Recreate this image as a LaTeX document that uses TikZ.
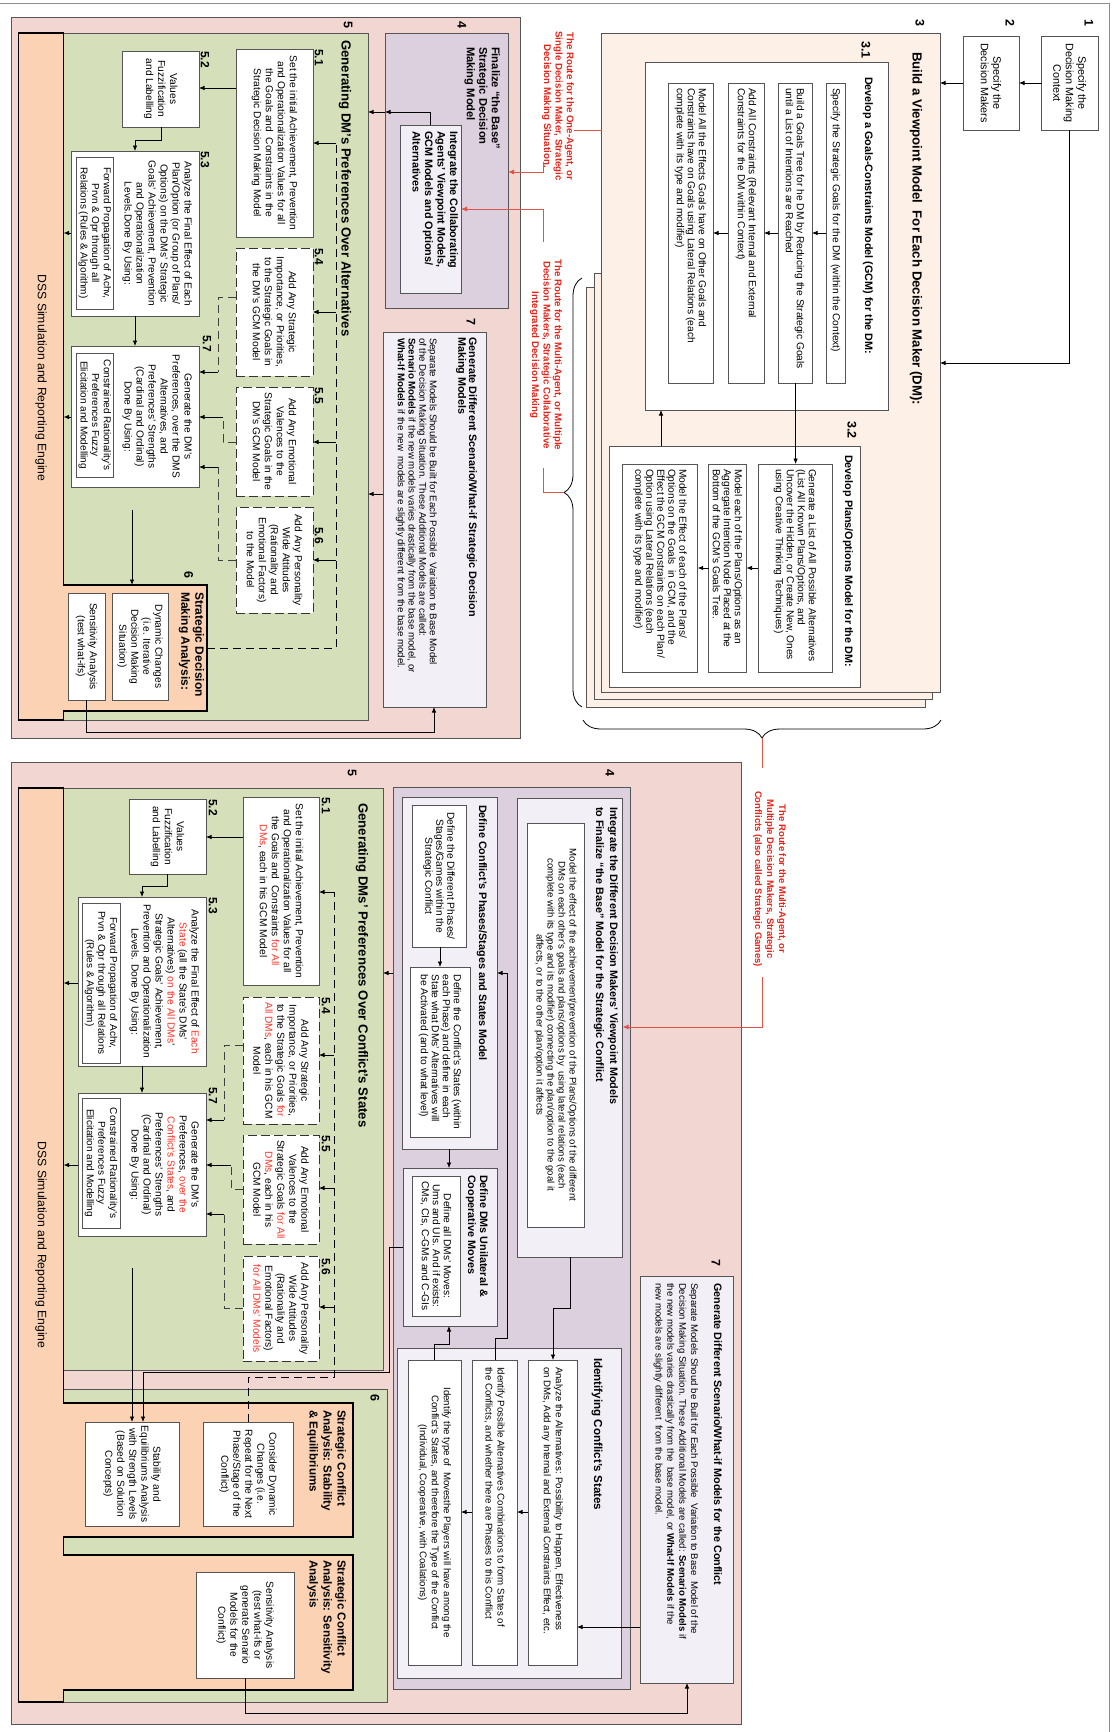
\documentclass[tikz,border=0pt]{standalone}
\usepackage{fontspec}
\setmainfont{Liberation Sans}
\usetikzlibrary{arrows.meta,decorations.pathreplacing}
\definecolor{pinkbg}{RGB}{242,214,210}
\definecolor{greenbg}{RGB}{213,224,187}
\definecolor{peach}{RGB}{251,211,180}
\definecolor{lav}{RGB}{220,207,222}
\definecolor{lavlt}{RGB}{242,240,246}
\definecolor{cream}{RGB}{253,240,231}
\definecolor{routered}{RGB}{226,36,26}
\definecolor{routeln}{RGB}{222,84,74}
\definecolor{hilite}{RGB}{255,52,40}
\definecolor{edge}{RGB}{85,85,85}
% box from its top-left and bottom-right corners (x right, y down)
\newcommand\bx[6]{\node[#6, anchor=north west, minimum width={#4-#2}, minimum height={#5-#3}] (#1) at (#2,#3) {};}
\newcommand\hl[1]{\textcolor{hilite}{#1}}
\begin{document}
\begin{tikzpicture}[x=1pt,y=-1pt,
  every node/.style={outer sep=0pt},
  frm/.style={draw=edge, line width=0.8pt, inner sep=0pt},
  wbox/.style={frm, fill=white},
  dbox/.style={draw=black!80, fill=white, line width=0.9pt, dash pattern=on 9pt off 4pt, inner sep=0pt},
  hid/.style={inner sep=0pt},
  rt/.style={rotate=-90, inner sep=0pt, align=center, font=\fontsize{10.2}{11}\selectfont},
  rtf/.style={rt, font=\fontsize{10.2}{12}\selectfont},
  ttl/.style={rt, align=left, font=\bfseries\fontsize{10.8}{12}\selectfont},
  ttlb/.style={rt, align=left, font=\bfseries\fontsize{11.6}{14}\selectfont},
  big/.style={rt, font=\bfseries\fontsize{13.2}{15}\selectfont},
  num/.style={rt, font=\bfseries\fontsize{12.5}{12.5}\selectfont},
  sub/.style={rt, anchor=west, font=\bfseries\fontsize{12}{12}\selectfont},
  rte/.style={rt, text=routered, font=\bfseries\fontsize{9.7}{11.4}\selectfont},
  arr/.style={draw=black, line width=0.7pt, -{Latex[length=5.5pt,width=4.5pt]}},
  dsh/.style={draw=black, line width=0.8pt, dash pattern=on 8pt off 5pt},
  rln/.style={draw=routeln, line width=0.9pt},
  rarr/.style={rln, -{Latex[length=6pt,width=5pt]}},
  brc/.style={draw=black, line width=0.8pt, decorate, decoration={brace, amplitude=18pt, aspect=0.5}}
]
\useasboundingbox (0,0) rectangle (1115,1732);
\draw[black!45, line width=0.6pt] (0,3) -- (1109,3) -- (1109,1732);

%================ upper half: single decision maker =================
\bx{pnlA}{11.4}{17.5}{520}{738}{frm, fill=pinkbg}
\bx{b1}{1041.6}{36}{1098}{130}{wbox}
\bx{b2}{963}{36}{1019}{130}{wbox}
\bx{b3c}{586}{287}{925}{707}{frm, fill=cream}
\bx{b3b}{594}{273}{932}{699}{frm, fill=cream}
\bx{b3}{601.6}{33}{940}{692}{frm, fill=cream}
\bx{g}{645.6}{62}{888}{410}{wbox}
\bx{ga}{826}{83}{845}{383}{wbox}
\bx{gb}{778}{83}{812}{383}{wbox}
\bx{gc}{728}{83}{764}{383}{wbox}
\bx{gd}{668}{83}{713}{383}{wbox}
\bx{p}{609.7}{446}{860}{687}{wbox}
\bx{pa}{758}{464}{832}{672}{wbox}
\bx{pb}{708.7}{464}{746.5}{672}{wbox}
\bx{pc}{622.5}{464}{697.7}{672}{wbox}

\node[num] at (1089,23) {1};
\node[num] at (1010,23) {2};
\node[num] at (920,23) {3};
\node[num] at (866,50) {3.1};
\node[num] at (852,430) {3.2};
\node[rt, font=\fontsize{10.8}{12.5}\selectfont] at (b1) {Specify the\\Decision Making\\Context};
\node[rt, font=\fontsize{10.8}{12.5}\selectfont] at (b2) {Specify the\\Decision Makers};
\node[big, anchor=west] at (916,52) {Build a Viewpoint Model\ \ For Each Decision Maker (DM):};
\node[ttl, anchor=west] at (868,77) {Develop a Goals-Constraints Model (GCM) for the DM:};
\node[rt, align=left, anchor=west] at ([yshift=-5pt]ga.north) {Specify the Strategic Goals for the DM (within the Context)};
\node[rt, align=left, anchor=west] at ([yshift=-5pt]gb.north) {Build a Goals Tree for he DM by Reducing the Strategic Goals\\until a List of Intentions are Reached};
\node[rt, align=left, anchor=west] at ([yshift=-5pt]gc.north) {Add All Constraints (Relevant Internal and External\\Constraints for the DM within Context)};
\node[rt, align=left, anchor=west] at ([yshift=-5pt]gd.north) {Model All the Effects Goals have on Other Goals and\\Constraints have on Goals using Lateral Relations (each\\complete with its type and modifier)};
\node[ttl, anchor=west] at (848,455) {Develop Plans/Options Model for the DM:};
\node[rt, align=left, anchor=west] at ([yshift=-5pt]pa.north) {Generate a List of All Possible Alternatives\\(List All Known Plans/Options, and\\Uncover the Hidden, or Create New, Ones\\using Creative Thinking Techniques)};
\node[rt, align=left, anchor=west] at ([yshift=-5pt]pb.north) {Model each of the Plans/Options as an\\Aggregate Intention Node Placed at the\\Bottom of the GCM's Goals Tree.};
\node[rt, align=left, anchor=west] at ([yshift=-5pt]pc.north) {Model the Effect of each of the Plans/\\Options on the Goals\ \ in GCM, and the\\Effect the GCM Constraints on each Plan/\\Option using Lateral Relations (each\\complete with its type and modifier)};

% blocks 4, 5, 6, 7
\bx{f}{385}{33}{508}{308}{frm, fill=lav}
\bx{fi}{400}{125}{461}{293}{frm, fill=lavlt}
\bx{s}{383}{332}{486}{707}{frm, fill=lavlt}
\bx{gnA}{18.6}{33}{368}{720}{frm, fill=greenbg}
\bx{dssA}{18.6}{33}{63.6}{720}{hid}
\bx{sixA}{63.6}{585}{207}{711}{hid}
\draw[line width=1.1pt, fill=peach] (dssA.north west) -- (dssA.north east) -- (sixA.north west) -- (sixA.north east)
  -- (sixA.south east) -- (sixA.south west) -- (dssA.south east) -- (dssA.south west) -- cycle;
\bx{a51}{236}{49}{313}{237}{wbox}
\bx{a52}{122.5}{51}{199}{127}{wbox}
\bx{a53}{71.4}{151}{199}{316}{wbox}
\bx{a53i}{76}{157}{113.6}{309}{wbox}
\bx{a57}{71.4}{346}{199}{487}{wbox}
\bx{a57i}{76}{353}{113.6}{477}{wbox}
\bx{a54}{236}{248}{313}{376}{dbox}
\bx{a55}{236}{387}{313}{496}{dbox}
\bx{a56}{236}{507}{313}{613}{dbox}
\bx{dyn}{112}{593}{168}{700}{wbox}
\bx{sens}{68}{593}{105}{700}{wbox}

\node[num] at (462,25) {4};
\node[num] at (348,25) {5};
\node[num] at (471,322) {7};
\node[num] at (188.6,575) {6};
\node[ttl, anchor=north west, font=\bfseries\fontsize{11.2}{12.5}\selectfont] at (500,47) {Finalize “the Base”\\Strategic Decision\\Making Model};
\node[ttl, anchor=north west, font=\bfseries\fontsize{10.8}{12.5}\selectfont] at (458,131) {Integrate the Collaborating\\Agents' Viewpoint Models,\\GCM Models and Options/\\Alternatives};
\node[ttl, anchor=north west, font=\bfseries\fontsize{10.8}{10.8}\selectfont] at (477,337) {Generate Different Scenario/What-if Strategic Decision\\Making Models};
\node[rt, align=left, anchor=north west, font=\fontsize{9.7}{10.7}\selectfont] at (437,338) {Separate Models Should be Built for Each Possible\ \ Variation to Base Model\\of the Decision Making Situation. These Additional Models are called:\\\textbf{Scenario Models} if the new models varies drastically from the base model, or\\\textbf{What-If Models} if the new\ \ models are slightly different from the base model.};
\node[big, anchor=west] at (345,40) {Generating DM's Preferences Over Alternatives};
\node[rt, font=\fontsize{12.2}{13}\selectfont] at (41,378) {DSS Simulation and Reporting Engine};
\node[sub] at (319,49) {5.1};
\node[sub] at (205,51) {5.2};
\node[sub] at (205,151) {5.3};
\node[sub] at (207,335) {5.7};
\node[sub] at (319,248) {5.4};
\node[sub] at (319,387) {5.5};
\node[sub] at (319,527) {5.6};
\node[rtf] at (a51) {Set the initial Achievement, Prevention\\and Operationalization Values for all\\the Goals and\ \ Constraints in the\\Strategic Decision Making Model};
\node[rtf] at (a52) {Values\\Fuzzification\\and Labelling};
\node[rtf, anchor=north] at ([xshift=-7pt]a53.east) {Analyze the Final Effect of Each\\Plan/Option (or Group of Plans/\\Options) on the DMs' Strategic\\Goals' Achievement, Prevention\\and Operationalization\\Levels.Done By Using:};
\node[rt, font=\fontsize{10}{11.6}\selectfont] at (a53i) {Forward Propagation of Achv,\\Prvn \& Opr through all\\Relations (Rules \& Algorithm)};
\node[rtf, anchor=north] at ([xshift=-7pt]a57.east) {Generate the DM's\\Preferences, over the DMS\\Alternatives, and\\Preferences' Strengths\\(Cardinal and Ordinal)\\Done By Using:};
\node[rt, font=\fontsize{10}{11.6}\selectfont] at (a57i) {Constrained Rationality's\\Preferences Fuzzy\\Elicitation and Modelling};
\node[rtf] at (a54) {Add Any Strategic\\Importance, or Priorities,\\to the Strategic Goals in\\the DM's GCM Model};
\node[rtf] at (a55) {Add Any Emotional\\Valences to the\\Strategic Goals in the\\DM's GCM Model};
\node[rtf] at (a56) {Add Any Personality\\Wide Attitudes\\(Rationality and\\Emotional Factors)\\to the Model};
\node[ttlb, anchor=north west, font=\bfseries\fontsize{12}{14}\selectfont] at (204,592) {Strategic Decision\\Making Analysis:};
\node[rtf] at (dyn) {Dynamic Changes\\(i.e. Iterative\\Decision Making\\Situation)};
\node[rtf] at (sens) {Sensitivity Analysis\\(test what-ifs)};

% upper connectors
\draw[arr] (b1.west) -- (b2.east);
\draw[arr] (b2.west) -- (b3.east |- b2.west);
\draw[arr] (b1.south) |- (b3.east |- 0,363);
\foreach \u/\v in {ga/gb,gb/gc,gc/gd} \draw[arr] (\u.west |- 0,233) -- (\v.east |- 0,233);
\draw[arr] (gb.south -| 795.6,0) -- (pa.north -| 795.6,0);
\draw[arr] (p.north -| 661,0) -- (g.south -| 661,0);
\foreach \u/\v in {pa/pb,pb/pc} \draw[arr] (\u.west |- 0,568) -- (\v.east |- 0,568);
\draw[arr] (fi.north -| 430,0) |- (f.west |- 0,112);
\draw[arr] (f.west |- 0,112) -- (gnA.east |- 0,112);
\draw[arr] (s.west |- 0,494) -- (gnA.east |- 0,494);
\draw[arr] (sens.south) |- (434,732) -- (s.south -| 434,0);
\draw[arr] (a51.west |- 0,88) -- (a52.east |- 0,88);
\draw[arr] (a52.south -| 161,0) -- (161,140) -- (135,140) -- (a53.north -| 135,0);
\draw[arr] (a53.south -| 135,0) -- (a57.north -| 135,0);
\draw[arr] (a53.west |- 0,233) -- (dssA.east |- 0,233);
\draw[arr] (a57.west |- 0,417) -- (dssA.east |- 0,417);
\draw[arr, line width=0.9pt, shorten <=23pt] (a57.south -| 132,0) -- (sixA.north -| 132,0);
\draw[dsh] (sixA.east |- 0,648) -- (336,648) -- (336,143);
\foreach \n/\yy in {a51/143,a54/312,a55/442,a56/560} \draw[arr] (336,\yy) -- (\n.east |- 0,\yy);
\draw[dsh, draw=black!75] (a54.west |- 0,297) -- (218,297) -- (218,372);
\draw[arr] (218,372) -- (a57.east |- 0,372);
\draw[dsh, draw=black!75] (a55.west |- 0,442) -- (223,442) -- (223,417);
\draw[arr] (223,417) -- (a57.east |- 0,417);
\draw[dsh, draw=black!75] (a56.west |- 0,560) -- (218,560) -- (218,467);
\draw[arr] (218,467) -- (a57.east |- 0,467);

% routes out of block 3
\node[rte] (r1) at (558,106) {The Route for the One-Agent, or\\Single Decision Maker, Strategic\\Decision Making Situation.};
\node[rte] (r2) at (546,355) {The Route for the Multi-Agent, or Multiple\\Decision Makers, Strategic Collaborative\\Integrated Decision Making};
\node[rte, font=\bfseries\fontsize{9.5}{12}\selectfont] (r3) at (769.5,879) {The Route for the Multi-Agent, or\\Multiple Decision Makers, Strategic\\Conflicts (also called Strategic Games)};
\coordinate (r1end) at (543,162);
\coordinate (r2top) at (543,242);
\coordinate (r2bot) at (543,468);
\coordinate (r3top) at (762,768);
\coordinate (r3bot) at (762,977);
\coordinate (vtip) at (563,492);
\coordinate (htip) at (762,738);
\draw[brc] (582,707) -- (582,278);
\draw[brc] (941,720) -- (583,720);
\draw[rln] (b3.west |- 0,130) -- (r1.north |- 0,130);
\draw[rarr] (r1end) -- (543,172) -- (f.east |- 0,172);
\draw[rln] (vtip) -- (543,492) -- (r2bot);
\draw[rarr] (r2top) -- (543,209) -- (fi.east |- 0,209);
\draw[rln] (htip) -- (r3top);

%================ lower half: strategic conflict =================
\bx{pnlB}{11.4}{762}{741}{1724}{frm, fill=pinkbg}
\bx{gnB}{18.6}{788}{383}{1370}{frm, fill=greenbg}
\bx{gnC}{18.6}{1389}{387.5}{1702}{frm, fill=greenbg}
\bx{dssB}{18.6}{788}{63.6}{1702}{hid}
\bx{sxa}{63.6}{1403}{353}{1537}{hid}
\bx{sxb}{63.6}{1555}{353}{1690}{hid}
\draw[line width=1.1pt, fill=peach] (dssB.north west) -- (dssB.north east) -- (sxa.north west) -- (sxa.north east)
  -- (sxa.south east) -- (sxa.south west) -- (sxb.north west) -- (sxb.north east) -- (sxb.south east)
  -- (sxb.south west) -- (dssB.south east) -- (dssB.south west) -- cycle;
\bx{fB}{393}{787}{630}{1689}{frm, fill=lav}
\bx{ig}{517}{798}{622.5}{1257}{frm, fill=lavlt}
\bx{igi}{527}{823}{584}{1227}{wbox}
\bx{dc}{402}{797}{497}{1149}{frm, fill=lavlt}
\bx{dca}{412}{805}{466}{947}{wbox}
\bx{dcb}{410}{967}{470}{1137}{wbox}
\bx{dm}{403}{1168}{497}{1326}{frm, fill=lavlt}
\bx{dmi}{412}{1176}{460}{1316}{wbox}
\bx{id}{397}{1348}{621}{1678}{frm, fill=lavlt}
\bx{ida}{528}{1360}{577}{1665}{wbox}
\bx{idb}{472}{1360}{517}{1665}{wbox}
\bx{idc}{408}{1360}{461}{1665}{wbox}
\bx{sB}{640}{1276}{733}{1683}{frm, fill=lavlt}
\bx{c51}{243}{797}{319}{985}{wbox}
\bx{c52}{129}{799}{206}{874}{wbox}
\bx{c53}{78}{897}{206}{1066}{wbox}
\bx{c53i}{82}{903}{120}{1063}{wbox}
\bx{c57}{78}{1093}{206}{1236}{wbox}
\bx{c57i}{82}{1098}{120}{1228}{wbox}
\bx{c54}{243}{997}{319}{1124}{dbox}
\bx{c55}{243}{1135}{319}{1244}{dbox}
\bx{c56}{243}{1256}{319}{1361}{dbox}
\bx{dynB}{203}{1422}{293}{1526}{wbox}
\bx{stab}{85}{1422}{179}{1526}{wbox}
\bx{sensB}{196}{1572}{294}{1678}{wbox}

\node[num] at (352,773) {5};
\node[num] at (610,773) {4};
\node[num] at (716,1263) {7};
\node[num] at (375,1398) {6};
\node[big, anchor=west] at (362,803) {Generating DMs' Preferences Over Conflict's States};
\node[rt, font=\fontsize{12.2}{13}\selectfont] at (41,1245) {DSS Simulation and Reporting Engine};
\node[sub] at (326,797) {5.1};
\node[sub] at (213,799) {5.2};
\node[sub] at (213,897) {5.3};
\node[sub] at (213,1087) {5.7};
\node[sub] at (326,997) {5.4};
\node[sub] at (326,1135) {5.5};
\node[sub] at (326,1258) {5.6};
\node[rtf] at (c51) {Set the initial Achievement, Prevention\\and Operationalization Values for all\\the Goals and\ \ Constraints \hl{for All}\\\hl{DMs}, each in his GCM Model};
\node[rtf] at (c52) {Values\\Fuzzification\\and Labelling};
\node[rtf, anchor=north] at ([xshift=-7pt]c53.east) {Analyze the Final Effect of \hl{Each}\\\hl{State} (all the State's DMs'\\Alternatives) \hl{on the All DMs}'\\Strategic Goals' Achievement,\\Prevention and Operationalization\\Levels. Done By Using:};
\node[rt, font=\fontsize{10}{11.6}\selectfont] at (c53i) {Forward Propagation of Achv,\\Prvn \& Opr through all Relations\\(Rules \& Algorithm)};
\node[rtf, anchor=north] at ([xshift=-7pt]c57.east) {Generate the DM's\\Preferences, \hl{over the}\\\hl{Conflict's States}, and\\Preferences' Strengths\\(Cardinal and Ordinal)\\Done By Using:};
\node[rt, font=\fontsize{10}{11.6}\selectfont] at (c57i) {Constrained Rationality's\\Preferences Fuzzy\\Elicitation and Modelling};
\node[rtf] at (c54) {Add Any Strategic\\Importance, or Priorities,\\to the Strategic Goals \hl{for}\\\hl{All DMs}, each in his GCM\\Model};
\node[rtf] at (c55) {Add Any Emotional\\Valences to the\\Strategic Goals \hl{for All}\\\hl{DMs}, each in his\\GCM Model};
\node[rtf] at (c56) {Add Any Personality\\Wide Attitudes\\(Rationality and\\Emotional Factors)\\\hl{for All DMs' Models}};
\node[ttlb, anchor=north west] at (346,1410) {Strategic Conflict\\Analysis: Stability\\\& Equilibriums};
\node[rtf] at (dynB) {Consider Dynamic\\Changes (i.e.\\Repeat for the Next\\Phase/Stage of the\\Conflict)};
\node[rtf] at (stab) {Stability and\\Equilibriums Analysis\\with Strength Levels\\(Based on Solution\\Concepts)};
\node[ttlb, anchor=north west] at (346,1560) {Strategic Conflict\\Analysis: Sensitivity\\Analysis};
\node[rtf] at (sensB) {Sensitivity Analysis\\(test what-ifs or\\generate Senario\\Models for the\\Conflict)};

\node[ttl, anchor=north west, font=\bfseries\fontsize{10.8}{14}\selectfont] at (618,807) {Integrate the Different Decision Makers' Viewpoint Models\\to Finalize “the Base” Model for the Strategic Conflict};
\node[rt, font=\fontsize{9.6}{11}\selectfont] at (igi) {Model the effect of the achievement/prevention of the Plans/Options of the different\\DMs on each other's goals and plans/options by\ \ using lateral relations (each\\complete with its type and its modifier) connecting the plan/option to the goal it\\affects, or to the other plan/option it affects};
\node[ttl, anchor=west] at (482,805) {Define Conflict's Phases/Stages and States Model};
\node[rt] at (dca) {Define the Different Phases/\\Stages/Games within the\\Strategic Conflict};
\node[rt, align=left] at (dcb) {Define the Conflict's States (within\\each Phase) and define in each\\State what DMs' Alternatives will\\be Activated (and to what level)};
\node[ttl, anchor=north west] at (488,1175) {Define DMs Unilateral \&\\Cooperative Moves};
\node[rt] at (dmi) {Define all DMs' Moves:\\Ums and UIs. And if exists:\\CMs, CIs, C-GMs and C-GIs};
\node[ttlb, anchor=west] at (597,1358) {Identifying Conflict's States};
\node[rt, align=left, anchor=west, font=\fontsize{9.7}{12}\selectfont] at ([yshift=-7pt]ida.north) {Analyze the Alternatives: Possibility to Happen, Effectiveness\\on DMs, Add any Internal and External Constraints Effect, etc.};
\node[rt, align=left, anchor=west, font=\fontsize{9.7}{12}\selectfont] at ([yshift=-7pt]idb.north) {Identify Possible Alternatives Combinations to form States of\\the Conflicts, and whether there are Phases to this Conflict};
\node[rt, font=\fontsize{9.7}{12}\selectfont] at (idc) {Identify the type of\ \ Movesthe Players will have among the\\Conflict's States, and therefore the Type of the Conflict\\(Individual, Cooperative, with Coalations)};
\node[ttl, anchor=west] at (718,1283) {Generate Different Scenario/What-if Models for the Conflict};
\node[rt, align=left, anchor=north west, font=\fontsize{9.6}{11.8}\selectfont] at (698,1283) {Separate Models Shoud be Built for Each Possible\ \ Variation to Base\ \ Model of the\\Decision Making Situation. These Additional Models are called: \textbf{Scenario Models} if\\the new models varies drastically from the\ \ base model, or \textbf{What-If Models} if the\\new models are slightly different\ \ from the base model.};

% lower connectors
\draw[arr] (c51.west |- 0,837) -- (c52.east |- 0,837);
\draw[arr] (c52.south -| 167,0) -- (167,886) -- (142,886) -- (c53.north -| 142,0);
\draw[arr] (c53.south -| 142,0) -- (c57.north -| 142,0);
\draw[arr] (c53.west |- 0,983) -- (dssB.east |- 0,983);
\draw[arr] (c57.west |- 0,1165) -- (dssB.east |- 0,1165);
\draw[arr, line width=0.9pt, shorten <=32pt] (c57.south -| 132,0) -- (stab.north -| 132,0);
\draw[dsh] (dynB.north -| 248,0) -- (248,1377) -- (334,1377) -- (334,892);
\foreach \n/\yy in {c51/892,c54/1055,c55/1188,c56/1307} \draw[arr] (334,\yy) -- (\n.east |- 0,\yy);
\draw[dsh, draw=black!75] (c54.west |- 0,1045) -- (224,1045) -- (224,1120);
\draw[arr] (224,1120) -- (c57.east |- 0,1120);
\draw[dsh, draw=black!75] (c55.west |- 0,1189) -- (231,1189) -- (231,1165);
\draw[arr] (231,1165) -- (c57.east |- 0,1165);
\draw[dsh, draw=black!75] (c56.west |- 0,1308) -- (224,1308) -- (224,1214);
\draw[arr] (224,1214) -- (c57.east |- 0,1214);
\draw[arr] (fB.west |- 0,973) -- (gnB.east |- 0,973);
\draw[arr] (dca.south -| 440,0) -- (dcb.north -| 440,0);
\draw[arr] (dc.south -| 449,0) -- (dm.north -| 449,0);
\draw[arr] (idb.north -| 495,0) -- (495,1338) -- (507,1338) -- (507,973) -- (dc.east |- 0,973);
\draw[arr] (idc.north -| 434,0) -- (434,1344) -- (449,1344) -- (dm.south -| 449,0);
\draw[arr] (dm.west |- 0,1247) -- (389,1247) -- (389,1372) -- (143,1372) -- (stab.north -| 143,0);
\draw[arr] (ig.south -| 570,0) -- (570,1308) -- (553,1308) -- (ida.north -| 553,0);
\draw[arr] (ida.west |- 0,1512) -- (idb.east |- 0,1512);
\draw[arr] (idb.west |- 0,1512) -- (idc.east |- 0,1512);
\draw[arr] (sB.west |- 0,1627) -- (ida.east |- 0,1627);
\draw[arr] (sensB.south) |- (687,1713) -- (sB.south -| 687,0);
\draw[rarr] (r3bot) -- (762,1027) -- (ig.east |- 0,1027);
\end{tikzpicture}
\end{document}
